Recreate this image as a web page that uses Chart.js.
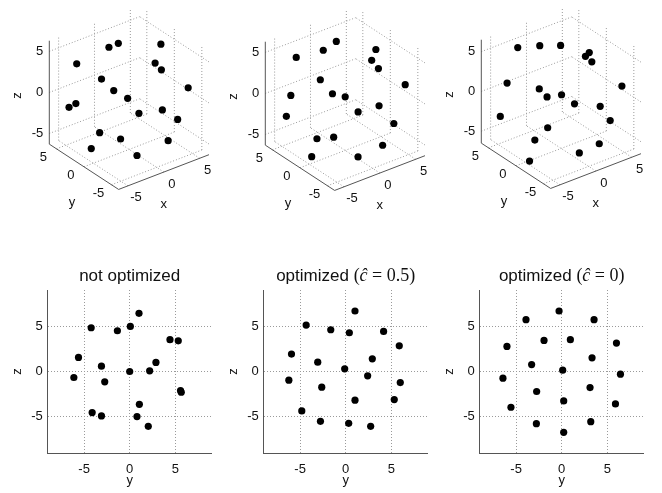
<!DOCTYPE html>
<html>
<head>
<meta charset="utf-8">
<script src="https://cdn.jsdelivr.net/npm/chart.js@4.4.1/dist/chart.umd.min.js"></script>
<style>
  body { margin: 0; background: #fff; width: 662px; height: 493px; position: relative; overflow: hidden; }
  canvas { position: absolute; }
</style>
</head>
<body>
<canvas id="top0" width="216" height="232" style="left:0px;top:0px"></canvas>
<canvas id="top1" width="216" height="232" style="left:216px;top:1px"></canvas>
<canvas id="top2" width="216" height="232" style="left:432px;top:-1px"></canvas>
<canvas id="bot0" width="216" height="243" style="left:0px;top:250px"></canvas>
<canvas id="bot1" width="216" height="243" style="left:216px;top:250px"></canvas>
<canvas id="bot2" width="216" height="243" style="left:432px;top:250px"></canvas>
<script>
// tick values used on every axis
const tickValues = [-5, 0, 5];

// not optimized
const xNotOpt = [1.25, -4.89, 4.48, -0.73, -3.92, 1.27, -2.95, 2.06, 5.85, 2.53, -0.21, -0.47, 5.83, -3.15, -4.04, -3.30, -4.67, 0.37, -2.07, 3.06];
const yNotOpt = [-4.23, -1.35, 0.07, 1.02, 4.42, 5.33, -5.62, -6.13, -3.10, -2.74, 0, 2.19, 2.88, 5.58, 5.66, 1.06, 0.80, 2.04, -4.12, -3.10];
const zNotOpt = [4.83, 4.50, 4.98, 6.42, 3.51, 3.39, 1.55, -0.66, 0.59, -1.14, 0, 0.07, 1.0, -2.10, -2.29, -3.62, -4.98, -6.05, -4.54, -4.91];

// optimized, c = 0.5
const xOptHalf = [1.31, -4.72, 4.59, -0.45, -3.63, 1.46, -2.76, 2.0, 6.02, -5.95, -0.08, 5.94, 0.08, -2.98, 5.51, -4.11, -1.90, 3.10, -4.41, 0.50];
const yOptHalf = [-4.34, -1.64, 0.40, 1.02, 4.16, 5.88, -5.95, -6.24, -3.07, -2.63, -0.11, 2.92, 2.41, 5.99, 1.02, 5.33, -4.82, -2.77, 0.33, 2.74];
const zOptHalf = [5.13, 4.61, 4.28, 6.68, 4.43, 2.84, 1.92, -0.96, 1.03, -1.73, 0.30, 1.40, -0.48, -1.22, -3.17, -3.10, -4.35, -5.50, -5.72, -6.05];

// optimized, c = 0
const xOptZero = [1.27, -0.30, -3.33, -2.75, -4.54, 4.65, 1.63, 5.94, 5.94, 0.14, 1.89, -2.59, -5.78, -6.10, 5.61, -1.74, 2.56, 3.18, 0.57, -4.24];
const yOptZero = [-3.92, -0.29, 3.55, -6.01, -1.94, 0.95, 6.01, 3.33, -3.30, 0.11, -6.45, 6.45, -2.75, 3.11, 0.22, -5.57, 5.90, -2.78, 3.19, 0.22];
const zOptZero = [5.72, 6.68, 5.72, 2.77, 3.43, 3.51, 3.14, 1.51, 0.77, 0.15, -0.74, -0.30, -2.21, -1.77, -3.25, -3.95, -3.58, -5.76, -5.54, -6.72];

// titles, split into text runs (sans / serif / italic serif)
const panelTitles = [
  [['sans', 'not optimized']],
  [['sans', 'optimized '], ['serif', '('], ['ital', 'ĉ'], ['serif', ' = 0.5)']],
  [['sans', 'optimized '], ['serif', '('], ['ital', 'ĉ'], ['serif', ' = 0)']]
];

const zLimits = [6.3, 6.3, 6.5];

const SANS = '"Liberation Sans", Arial, sans-serif';
const SERIF = '"Liberation Serif", "DejaVu Serif", serif';
const GRID = '#9a9a9a';
const AXIS = '#555';
const TEXT = '#111';

// 3d view (azimuth -37.5, elevation 30)
const AZ = 37.5 * Math.PI / 180, EL = 30 * Math.PI / 180;
const CA = Math.cos(AZ), SA = Math.sin(AZ), SE = Math.sin(EL);
const XY_LIM = 6.3, BOX_HALF_H = 5.71;

function project(x, y, z, zLim) {
  return { x: CA * x - SA * y, y: (BOX_HALF_H / zLim) * z + SE * (SA * x + CA * y) };
}

const box3d = {
  id: 'box3d',
  beforeDatasetsDraw(chart, args, opts) {
    const { ctx, scales: { x: sx, y: sy } } = chart;
    const L = XY_LIM, Z = opts.zLim;
    const P = (x, y, z) => {
      const p = project(x, y, z, Z);
      return [sx.getPixelForValue(p.x), sy.getPixelForValue(p.y)];
    };
    const line = (a, b) => {
      ctx.beginPath();
      ctx.moveTo(...P(...a));
      ctx.lineTo(...P(...b));
      ctx.stroke();
    };
    ctx.save();
    ctx.lineWidth = 1;
    ctx.strokeStyle = GRID;
    ctx.setLineDash([1, 2]);
    tickValues.forEach(t => {
      line([t, -L, -Z], [t, L, -Z]);
      line([-L, t, -Z], [L, t, -Z]);
      line([t, L, -Z], [t, L, Z]);
      line([L, t, -Z], [L, t, Z]);
      line([-L, L, t], [L, L, t]);
      line([L, -L, t], [L, L, t]);
    });
    ctx.setLineDash([]);
    ctx.strokeStyle = AXIS;
    line([-L, L, -Z], [-L, L, Z]);
    line([-L, L, -Z], [-L, -L, -Z]);
    line([-L, -L, -Z], [L, -L, -Z]);

    ctx.fillStyle = TEXT;
    ctx.font = '13px ' + SANS;
    ctx.textBaseline = 'middle';
    tickValues.forEach(t => {
      let [px, py] = P(-L, L, t);
      ctx.textAlign = 'right';
      ctx.fillText(String(t), px - 6, py);
      ctx.textAlign = 'center';
      [px, py] = P(t, -L, -Z);
      ctx.fillText(String(t), px + 8, py + 12);
      [px, py] = P(-L, t, -Z);
      ctx.fillText(String(t), px - 13, py + 9);
    });
    let [px, py] = P(0, -L, -Z);
    ctx.fillText('x', px, py + 32);
    [px, py] = P(-L, 0, -Z);
    ctx.fillText('y', px - 12, py + 36);
    [px, py] = P(-L, L, 0);
    ctx.translate(px - 32, py + 3);
    ctx.rotate(-Math.PI / 2);
    ctx.fillText('z', 0, 0);
    ctx.restore();
  }
};

const mixedTitle = {
  id: 'mixedTitle',
  afterDraw(chart, args, opts) {
    const { ctx, chartArea } = chart;
    const fonts = { sans: '17px ' + SANS, serif: '18px ' + SERIF, ital: 'italic 18px ' + SERIF };
    ctx.save();
    ctx.fillStyle = TEXT;
    ctx.textBaseline = 'alphabetic';
    ctx.textAlign = 'left';
    let total = 0;
    opts.runs.forEach(([f, t]) => { ctx.font = fonts[f]; total += ctx.measureText(t).width; });
    let x = (chartArea.left + chartArea.right) / 2 - total / 2;
    opts.runs.forEach(([f, t]) => {
      ctx.font = fonts[f];
      ctx.fillText(t, x, 31);
      x += ctx.measureText(t).width;
    });
    ctx.restore();
  }
};

function make3D(id, xs, ys, zs, zLim) {
  const pts = xs.map((x, i) => project(x, ys[i], zs[i], zLim));
  new Chart(document.getElementById(id), {
    type: 'scatter',
    data: { datasets: [{ data: pts, pointRadius: 3.6, pointHoverRadius: 3.6, backgroundColor: '#000', borderWidth: 0 }] },
    options: {
      responsive: false,
      animation: false,
      layout: { padding: 0 },
      plugins: { legend: { display: false }, tooltip: { enabled: false }, box3d: { zLim } },
      scales: {
        x: { type: 'linear', display: false, min: -13.89, max: 9.21 },
        y: { type: 'linear', display: false, min: -14.43, max: 10.39 }
      }
    },
    plugins: [box3d]
  });
}

function axisOpts(title, isX) {
  return {
    type: 'linear',
    min: -9,
    max: 9,
    afterBuildTicks: s => { s.ticks = tickValues.map(v => ({ value: v })); },
    afterFit: s => { if (isX) s.height = 40; else s.width = 47.7; },
    grid: { color: GRID, lineWidth: 1, drawTicks: false },
    border: { display: true, color: AXIS, width: 1, dash: [1, 2] },
    ticks: { color: TEXT, font: { family: SANS, size: 13 }, padding: isX ? 9 : 5, maxRotation: 0 },
    title: {
      display: true, text: title, color: TEXT,
      font: { family: SANS, size: 13 },
      padding: isX ? { top: 0, bottom: 5 } : { top: 10, bottom: 0 }
    }
  };
}

function make2D(id, ys, zs, runs) {
  new Chart(document.getElementById(id), {
    type: 'scatter',
    data: { datasets: [{ data: ys.map((y, i) => ({ x: y, y: zs[i] })), pointRadius: 3.6, pointHoverRadius: 3.6, backgroundColor: '#000', borderWidth: 0 }] },
    options: {
      responsive: false,
      animation: false,
      layout: { padding: { top: 40, right: 4.3, left: 0, bottom: 0 } },
      plugins: { legend: { display: false }, tooltip: { enabled: false }, mixedTitle: { runs } },
      scales: { x: axisOpts('y', true), y: axisOpts('z', false) }
    },
    plugins: [mixedTitle]
  });
}

make3D('top0', xNotOpt, yNotOpt, zNotOpt, zLimits[0]);
make3D('top1', xOptHalf, yOptHalf, zOptHalf, zLimits[1]);
make3D('top2', xOptZero, yOptZero, zOptZero, zLimits[2]);
make2D('bot0', yNotOpt, zNotOpt, panelTitles[0]);
make2D('bot1', yOptHalf, zOptHalf, panelTitles[1]);
make2D('bot2', yOptZero, zOptZero, panelTitles[2]);
</script>
</body>
</html>
